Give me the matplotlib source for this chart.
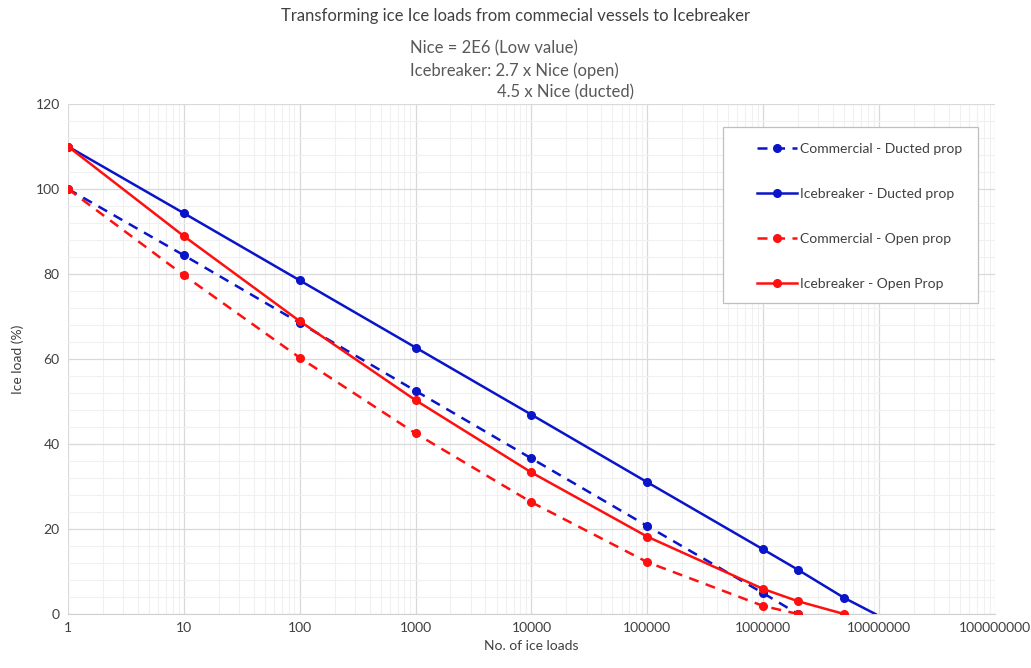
import matplotlib.pyplot as plt
from matplotlib.patches import Rectangle
from matplotlib.ticker import FixedLocator, MultipleLocator, NullFormatter

plt.rcParams['font.family'] = ['Lato', 'DejaVu Sans']

# data
x_comm = [1, 10, 100, 1000, 10000, 100000, 1000000, 2000000]
comm_ducted = [100, 84.4, 68.5, 52.5, 36.6, 20.7, 4.9, 0]
comm_open = [100, 79.7, 60.3, 42.5, 26.3, 12.2, 1.9, 0]

x_ice_ducted = [1, 10, 100, 1000, 10000, 100000, 1000000, 2000000, 5000000, 9300000]
ice_ducted = [110, 94.3, 78.5, 62.7, 46.9, 31.0, 15.2, 10.4, 3.8, 0]

x_ice_open = [1, 10, 100, 1000, 10000, 100000, 1000000, 2000000, 5000000]
ice_open = [110, 88.9, 68.9, 50.3, 33.3, 18.2, 5.9, 3.0, 0]

xticks = [10 ** i for i in range(9)]
xticklabels = [str(v) for v in xticks]

blue = '#0a14c8'
red = '#ff1010'

W, H = 1031, 668
fig = plt.figure(figsize=(W / 100, H / 100), dpi=100)
ax = fig.add_axes([0.066, 0.0808, 0.899, 0.7635])

ax.plot(x_comm, comm_ducted, '--', color=blue, lw=1.8, marker='o', ms=5.5,
        dashes=(4, 3), label='Commercial - Ducted prop', zorder=3)
ax.plot(x_ice_ducted, ice_ducted, '-', color=blue, lw=1.8, marker='o', ms=5.5,
        markevery=list(range(len(ice_ducted) - 1)), label='Icebreaker - Ducted prop', zorder=3)
ax.plot(x_comm, comm_open, '--', color=red, lw=1.8, marker='o', ms=5.5,
        dashes=(4, 3), label='Commercial - Open prop', zorder=4)
ax.plot(x_ice_open, ice_open, '-', color=red, lw=1.8, marker='o', ms=5.5,
        label='Icebreaker - Open Prop', zorder=4)

ax.set_xscale('log')
ax.set_xlim(1, 1e8)
ax.set_ylim(0, 120)
ax.xaxis.set_major_locator(FixedLocator(xticks))
ax.set_xticklabels(xticklabels)
ax.xaxis.set_minor_formatter(NullFormatter())
ax.yaxis.set_major_locator(MultipleLocator(20))
ax.yaxis.set_minor_locator(MultipleLocator(4))

ax.grid(which='major', color='#d9d9d9', lw=0.9)
ax.grid(which='minor', color='#f0f0f0', lw=0.8)
ax.set_axisbelow(True)
ax.tick_params(which='both', length=0, labelsize=10, colors='#404040', pad=6)
for s in ['top', 'right', 'left']:
    ax.spines[s].set_visible(False)
ax.spines['bottom'].set_color('#d0d0d0')

ax.set_xlabel('No. of ice loads', fontsize=10, color='#404040', labelpad=4)
ax.set_ylabel('Ice load (%)', fontsize=10, color='#404040', labelpad=8)

fig.text(0.5, 0.976, 'Transforming ice Ice loads from commecial vessels to Icebreaker',
         ha='center', va='center', fontsize=12, color='#404040')
fig.text(0.398, 0.928, 'Nice = 2E6 (Low value)', fontsize=12, color='#595959', va='center')
fig.text(0.398, 0.894, 'Icebreaker: 2.7 x Nice (open)', fontsize=12, color='#595959', va='center')
fig.text(0.482, 0.861, '4.5 x Nice (ducted)', fontsize=12, color='#595959', va='center')

# legend box drawn by hand, legend itself frameless
box = Rectangle((723 / W, 1 - 303 / H), 255 / W, 176 / H, transform=fig.transFigure,
                facecolor='white', edgecolor='#bfbfbf', lw=0.9, zorder=5, clip_on=False)
ax.add_artist(box)
leg = ax.legend(loc='upper left', bbox_to_anchor=(757 / W, 1 - 143 / H), bbox_transform=fig.transFigure,
                fontsize=10, labelspacing=2.38, handlelength=2.9, handletextpad=0.2,
                borderpad=0, borderaxespad=0, frameon=False)
leg.set_zorder(6)
for t in leg.get_texts():
    t.set_color('#404040')

fig.savefig('out.png', dpi=100)
